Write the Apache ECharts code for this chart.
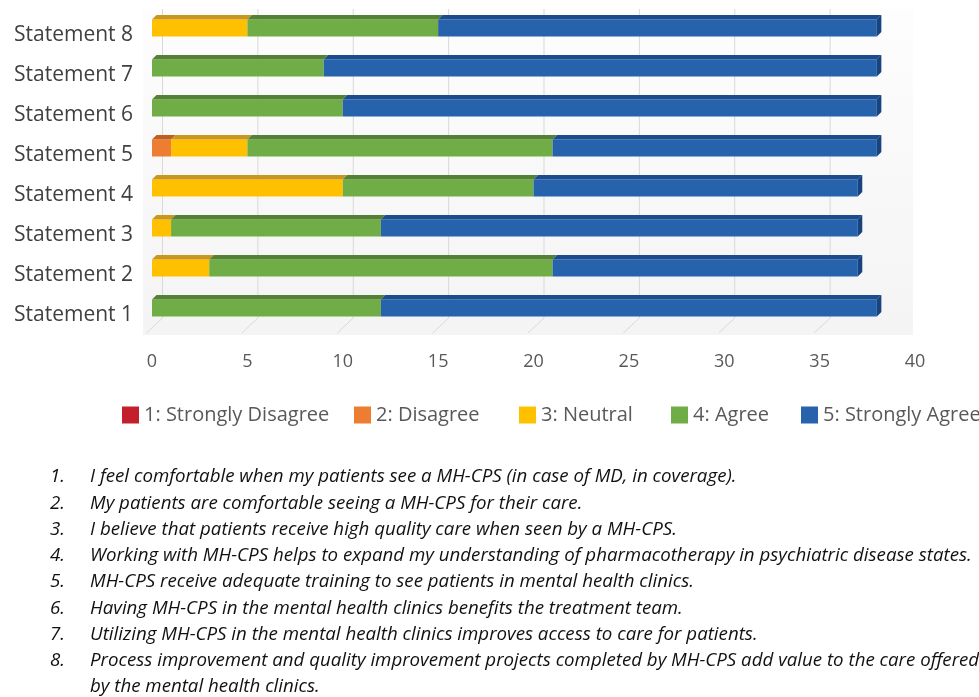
<!DOCTYPE html>
<html>
<head>
<meta charset="utf-8">
<script src="https://cdn.jsdelivr.net/npm/echarts@6.0.0/dist/echarts.min.js"></script>
<style>
  html, body { margin: 0; padding: 0; background: #fff; }
  #chart { width: 979px; height: 697px; }
</style>
</head>
<body>
<div id="chart"></div>
<script>
// categories, bottom to top
const categories = ['Statement 1', 'Statement 2', 'Statement 3', 'Statement 4',
  'Statement 5', 'Statement 6', 'Statement 7', 'Statement 8'];
const levels = ['1: Strongly Disagree', '2: Disagree', '3: Neutral', '4: Agree', '5: Strongly Agree'];

// number of responses per statement
const stronglyDisagree = [0, 0, 0, 0, 0, 0, 0, 0];
const disagree = [0, 0, 0, 0, 1, 0, 0, 0];
const neutral = [0, 3, 1, 10, 4, 0, 0, 5];
const agree = [12, 18, 11, 10, 16, 10, 9, 10];
const stronglyAgree = [26, 16, 25, 17, 17, 28, 29, 23];

const xTicks = [0, 5, 10, 15, 20, 25, 30, 35, 40];

const statements = [
  'I feel comfortable when my patients see a MH-CPS (in case of MD, in coverage).',
  'My patients are comfortable seeing a MH-CPS for their care.',
  'I believe that patients receive high quality care when seen by a MH-CPS.',
  'Working with MH-CPS helps to expand my understanding of pharmacotherapy in psychiatric disease states.',
  'MH-CPS receive adequate training to see patients in mental health clinics.',
  'Having MH-CPS in the mental health clinics benefits the treatment team.',
  'Utilizing MH-CPS in the mental health clinics improves access to care for patients.',
  'Process improvement and quality improvement projects completed by MH-CPS add value to the care offered',
  'by the mental health clinics.'
];

const colors = ['#C4202B', '#ED7D31', '#FFC000', '#70AD47', '#2762AD'];
const topColors = ['#962020', '#C0601E', '#C9971B', '#548235', '#1B4D8E'];
const sideColors = ['#8A1A1A', '#A9521A', '#B88A14', '#4A7530', '#17437E'];

const levelValues = [stronglyDisagree, disagree, neutral, agree, stronglyAgree];
const totals = categories.map((_, i) => levelValues.reduce((s, arr) => s + arr[i], 0));

const FONT = '"Open Sans", "Liberation Sans", sans-serif';
const DEPTH = 4.5;
const FACE = 17;

const chart = echarts.init(document.getElementById('chart'), null, { renderer: 'canvas' });

const barSeries = levelValues.map((vals, s) => ({
  type: 'custom',
  name: levels[s],
  itemStyle: { color: colors[s] },
  encode: { x: [0, 1], y: 2 },
  clip: false,
  z: 3,
  data: vals.map((v, i) => {
    const start = levelValues.slice(0, s).reduce((a, arr) => a + arr[i], 0);
    return [start, start + v, i];
  }),
  renderItem: (params, api) => {
    const start = api.value(0);
    const end = api.value(1);
    const cat = api.value(2);
    if (end <= start) return;
    const p0 = api.coord([start, cat]);
    const p1 = api.coord([end, cat]);
    const top = p0[1] - FACE / 2;
    const children = [
      {
        type: 'rect',
        shape: { x: p0[0], y: top, width: p1[0] - p0[0], height: FACE },
        style: { fill: colors[s] }
      },
      {
        type: 'polygon',
        shape: { points: [[p0[0], top], [p1[0], top], [p1[0] + DEPTH, top - DEPTH], [p0[0] + DEPTH, top - DEPTH]] },
        style: { fill: topColors[s] }
      }
    ];
    if (end === totals[cat]) {
      children.push({
        type: 'polygon',
        shape: { points: [[p1[0], top], [p1[0] + DEPTH, top - DEPTH], [p1[0] + DEPTH, top + FACE - DEPTH], [p1[0], top + FACE]] },
        style: { fill: sideColors[s] }
      });
    }
    return { type: 'group', children };
  }
}));

// back wall, gridlines and floor lines of the 3D plot area
const wallSeries = {
  type: 'custom',
  name: 'wall',
  silent: true,
  clip: false,
  z: 1,
  encode: { x: 0 },
  data: xTicks.map((t) => [t]),
  renderItem: (params, api) => {
    const cs = params.coordSys;
    const x = api.coord([api.value(0), 0])[0] + 10.5;
    const children = [];
    if (params.dataIndex === 0) {
      children.push({
        type: 'rect',
        shape: { x: cs.x - 9, y: cs.y + 1, width: cs.width - 2 + 9, height: cs.height + 6 },
        style: {
          fill: new echarts.graphic.LinearGradient(0, 0, 0, 1, [
            { offset: 0, color: '#fdfdfd' },
            { offset: 1, color: '#f4f4f4' }
          ])
        }
      });
    }
    // the last tick falls outside the back wall
    if (x > cs.x + cs.width) return { type: 'group', children };
    const yb = cs.y + cs.height - 10;
    children.push({
      type: 'polyline',
      shape: { points: [[x, cs.y + 1], [x, yb], [x - 16, yb + 15]] },
      style: { stroke: '#d9d9d9', lineWidth: 1, fill: null }
    });
    return { type: 'group', children };
  }
};

const legendLeft = [117, 349, 514, 666, 796];

const option = {
  backgroundColor: '#ffffff',
  animation: false,
  grid: { left: 152, top: 8, width: 763, height: 320 },
  xAxis: {
    type: 'value',
    min: 0,
    max: 40,
    interval: 5,
    axisLine: { show: false },
    axisTick: { show: false },
    splitLine: { show: false },
    axisLabel: { color: '#595959', fontSize: 18, fontFamily: FONT, margin: 25 }
  },
  yAxis: {
    type: 'category',
    data: categories,
    axisLine: { show: false },
    axisTick: { show: false },
    axisLabel: {
      color: '#404040', fontSize: 21, fontFamily: FONT, margin: 19,
      verticalAlign: 'top', lineHeight: 15
    }
  },
  legend: levels.map((name, s) => ({
    data: [name],
    left: legendLeft[s],
    top: 400,
    icon: 'rect',
    itemWidth: 17,
    itemHeight: 17,
    selectedMode: false,
    textStyle: { color: '#595959', fontSize: 20, fontFamily: FONT }
  })),
  graphic: statements.map((text, i) => ({
    type: 'group',
    children: [
      i < 8 ? {
        type: 'text',
        x: 50,
        y: 477 + i * 26.25,
        style: { text: (i + 1) + '.', font: 'italic 18.7px ' + FONT, fill: '#111111', verticalAlign: 'middle' }
      } : null,
      {
        type: 'text',
        x: 90,
        y: 477 + i * 26.25,
        style: { text, font: 'italic 18.7px ' + FONT, fill: '#111111', verticalAlign: 'middle' }
      }
    ].filter(Boolean)
  })),
  series: [wallSeries].concat(barSeries)
};

chart.setOption(option);
</script>
</body>
</html>
